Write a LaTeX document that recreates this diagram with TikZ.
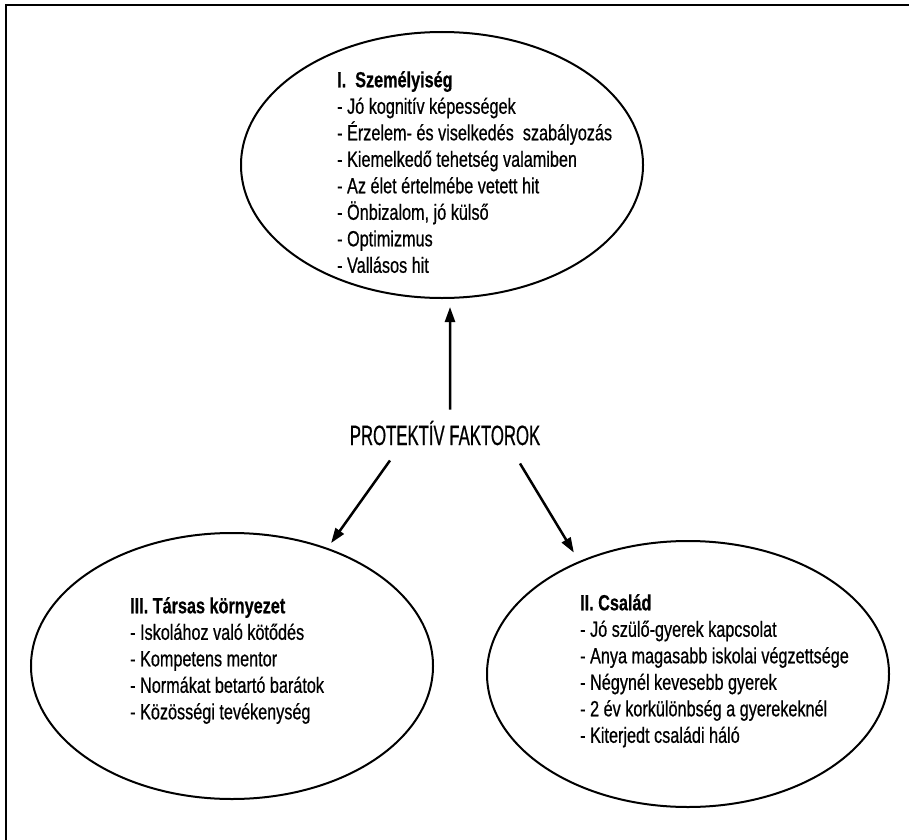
\documentclass[tikz,border=0pt]{standalone}
\usepackage{fontspec}
\setmainfont{Liberation Sans}
\newfontfamily\condfont[FakeStretch=0.74, FakeBold=0.6]{Liberation Sans}
\newfontfamily\capfont[FakeStretch=0.6, FakeBold=0.6]{Liberation Sans}
\usepackage{tikz}
\usetikzlibrary{shapes.geometric, arrows.meta, positioning, calc}
\tikzstyle{factor} = [ellipse, draw=black, line width=2bp, minimum width=402bp, minimum height=266bp, inner sep=0pt]
\tikzstyle{list} = [align=left, inner sep=0pt, anchor=north west, font=\condfont\fontsize{22}{26.6}\selectfont]
\tikzstyle{arrow} = [line width=2.5bp, -{Triangle[length=15bp,width=10bp]}]

\begin{document}
\begin{tikzpicture}[x=1bp, y=-1bp]
    \useasboundingbox (0,0) rectangle (909,840);
    \draw [line width=2bp] (6,5) rectangle (940,870);

    % the three groups of factors
    \node (szem) [factor] at (442,165) {};
    \node (tars) [factor] at (232,666) {};
    \node (csal) [factor] at (688,674) {};

    \node (szemtext) [list] at (337,71) {\textbf{I.~ Személyiség}\\- Jó kognitív képességek\\- Érzelem- és viselkedés~ szabályozás\\- Kiemelkedő tehetség valamiben\\- Az élet értelmébe vetett hit\\- Önbizalom, jó külső\\- Optimizmus\\- Vallásos hit};
    \node (tarstext) [list] at (130,597) {\textbf{III. Társas környezet}\\- Iskolához való kötődés\\- Kompetens mentor\\- Normákat betartó barátok\\- Közösségi tevékenység};
    \node (csaltext) [list] at (580,594) {\textbf{II. Család}\\- Jó szülő-gyerek kapcsolat\\- Anya magasabb iskolai végzettsége\\- Négynél kevesebb gyerek\\- 2 év korkülönbség a gyerekeknél\\- Kiterjedt családi háló};

    \node (prot) [inner sep=0pt, anchor=base, font=\capfont\fontsize{28}{32}\selectfont] at (445,445) {PROTEKTÍV FAKTOROK};

    \draw [arrow, shorten >=8bp] ([xshift=5bp,yshift=11bp]prot.north) -- ([xshift=8bp]szem.south);
    \draw [arrow, shorten >=6bp] ([xshift=-55bp,yshift=-15bp]prot.south) -- (tars.51.6);
    \draw [arrow, shorten >=10bp] ([xshift=75bp,yshift=-18bp]prot.south) -- (csal.134.7);
\end{tikzpicture}
\end{document}
